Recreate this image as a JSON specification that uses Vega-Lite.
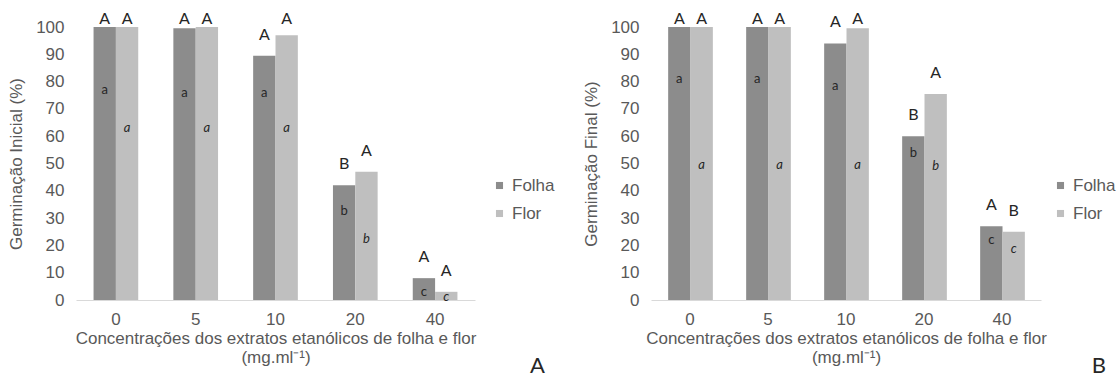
{
  "$schema": "https://vega.github.io/schema/vega-lite/v6.json",
  "background": "white",
  "padding": {"left": 7, "top": 11, "right": 0, "bottom": 0},
  "config": {
    "font": "Liberation Sans",
    "view": {"stroke": null},
    "axis": {"labelFont": "Liberation Sans", "labelFontSize": 17, "labelColor": "#595959", "titleFont": "Liberation Sans", "titleFontSize": 17, "titleColor": "#595959", "titleFontWeight": "normal", "grid": false, "ticks": false, "labelOverlap": false},
    "axisY": {"values": [0, 10, 20, 30, 40, 50, 60, 70, 80, 90, 100], "domain": false, "labelPadding": 12, "titlePadding": 10, "labelOverlap": false},
    "legend": {"labelFont": "Liberation Sans", "labelFontSize": 17, "labelColor": "#595959", "symbolType": "square", "symbolSize": 50, "symbolStrokeWidth": 0, "rowPadding": 10},
    "concat": {"spacing": 27}
  },
  "datasets": {
    "germ": [
      {"painel": "Inicial", "conc": 0, "tipo": "Folha", "valor": 100, "sup": "A", "inf": "a", "y_letra": 77},
      {"painel": "Inicial", "conc": 0, "tipo": "Flor", "valor": 100, "sup": "A", "inf": "a", "y_letra": 63},
      {"painel": "Inicial", "conc": 5, "tipo": "Folha", "valor": 99.5, "sup": "A", "inf": "a", "y_letra": 76},
      {"painel": "Inicial", "conc": 5, "tipo": "Flor", "valor": 100, "sup": "A", "inf": "a", "y_letra": 63},
      {"painel": "Inicial", "conc": 10, "tipo": "Folha", "valor": 89.5, "sup": "A", "inf": "a", "y_letra": 76},
      {"painel": "Inicial", "conc": 10, "tipo": "Flor", "valor": 97, "sup": "A", "inf": "a", "y_letra": 63},
      {"painel": "Inicial", "conc": 20, "tipo": "Folha", "valor": 42, "sup": "B", "inf": "b", "y_letra": 32.5},
      {"painel": "Inicial", "conc": 20, "tipo": "Flor", "valor": 47, "sup": "A", "inf": "b", "y_letra": 22.5},
      {"painel": "Inicial", "conc": 40, "tipo": "Folha", "valor": 8, "sup": "A", "inf": "c", "y_letra": 3},
      {"painel": "Inicial", "conc": 40, "tipo": "Flor", "valor": 3, "sup": "A", "inf": "c", "y_letra": 1},
      {"painel": "Final", "conc": 0, "tipo": "Folha", "valor": 100, "sup": "A", "inf": "a", "y_letra": 81},
      {"painel": "Final", "conc": 0, "tipo": "Flor", "valor": 100, "sup": "A", "inf": "a", "y_letra": 49.5},
      {"painel": "Final", "conc": 5, "tipo": "Folha", "valor": 100, "sup": "A", "inf": "a", "y_letra": 81},
      {"painel": "Final", "conc": 5, "tipo": "Flor", "valor": 100, "sup": "A", "inf": "a", "y_letra": 49.5},
      {"painel": "Final", "conc": 10, "tipo": "Folha", "valor": 94, "sup": "A", "inf": "a", "y_letra": 78.5},
      {"painel": "Final", "conc": 10, "tipo": "Flor", "valor": 99.5, "sup": "A", "inf": "a", "y_letra": 49.5},
      {"painel": "Final", "conc": 20, "tipo": "Folha", "valor": 60, "sup": "B", "inf": "b", "y_letra": 54},
      {"painel": "Final", "conc": 20, "tipo": "Flor", "valor": 75.5, "sup": "A", "inf": "b", "y_letra": 49},
      {"painel": "Final", "conc": 40, "tipo": "Folha", "valor": 27, "sup": "A", "inf": "c", "y_letra": 22},
      {"painel": "Final", "conc": 40, "tipo": "Flor", "valor": 25, "sup": "B", "inf": "c", "y_letra": 18.5}
    ]
  },
  "resolve": {"legend": {"color": "independent"}},
  "hconcat": [
    {
      "width": 399,
      "height": 273,
      "data": {"name": "germ"},
      "transform": [
        {"filter": "datum.painel === 'Inicial'"},
        {"calculate": "min(datum.valor + 4.8, 100)", "as": "y_sup"}
      ],
      "title": {"text": "A", "orient": "bottom", "anchor": "end", "font": "Lato", "fontSize": 22, "fontWeight": "normal", "color": "#262626", "offset": -9, "dx": -10},
      "encoding": {
        "x": {"field": "conc", "type": "ordinal", "sort": [0, 5, 10, 20, 40], "scale": {"paddingInner": 0.44, "paddingOuter": 0.22},
          "axis": {"labelAngle": 0, "domainColor": "#d9d9d9", "labelPadding": 11, "titlePadding": 3, "titleLineHeight": 19, "title": ["Concentrações dos extratos etanólicos de folha e flor", "(mg.ml⁻¹)"]}},
        "xOffset": {"field": "tipo", "sort": ["Folha", "Flor"], "scale": {"padding": 0}}
      },
      "layer": [
        {
          "mark": {"type": "bar"},
          "encoding": {
            "y": {"field": "valor", "type": "quantitative", "scale": {"domain": [0, 100]}, "title": "Germinação Inicial (%)",
              "axis": {"values": [0, 10, 20, 30, 40, 50, 60, 70, 80, 90, 100]}},
            "color": {"field": "tipo", "type": "nominal", "sort": ["Folha", "Flor"], "scale": {"domain": ["Folha", "Flor"], "range": ["#8c8c8c", "#bfbfbf"]},
              "legend": {"orient": "none", "legendX": 415, "legendY": 150, "title": null}}
          }
        },
        {
          "mark": {"type": "text", "baseline": "bottom", "font": "Lato", "fontSize": 16, "color": "#262626"},
          "encoding": {"y": {"field": "y_sup", "type": "quantitative", "title": "Germinação Inicial (%)", "axis": {"values": [0, 10, 20, 30, 40, 50, 60, 70, 80, 90, 100]}}, "text": {"field": "sup"}}
        },
        {
          "transform": [{"filter": "datum.tipo === 'Folha'"}],
          "mark": {"type": "text", "baseline": "middle", "font": "Lato", "fontSize": 13, "color": "#262626"},
          "encoding": {"y": {"field": "y_letra", "type": "quantitative", "title": "Germinação Inicial (%)", "axis": {"values": [0, 10, 20, 30, 40, 50, 60, 70, 80, 90, 100]}}, "text": {"field": "inf"}}
        },
        {
          "transform": [{"filter": "datum.tipo === 'Flor'"}],
          "mark": {"type": "text", "baseline": "middle", "font": "Lato", "fontSize": 13, "fontStyle": "italic", "color": "#262626"},
          "encoding": {"y": {"field": "y_letra", "type": "quantitative", "title": "Germinação Inicial (%)", "axis": {"values": [0, 10, 20, 30, 40, 50, 60, 70, 80, 90, 100]}}, "text": {"field": "inf"}}
        }
      ]
    },
    {
      "width": 390,
      "height": 273,
      "data": {"name": "germ"},
      "transform": [
        {"filter": "datum.painel === 'Final'"},
        {"calculate": "min(datum.valor + 4.8, 100)", "as": "y_sup"}
      ],
      "title": {"text": "B", "orient": "bottom", "anchor": "end", "font": "Lato", "fontSize": 22, "fontWeight": "normal", "color": "#262626", "offset": -9, "dx": -10},
      "encoding": {
        "x": {"field": "conc", "type": "ordinal", "sort": [0, 5, 10, 20, 40], "scale": {"paddingInner": 0.44, "paddingOuter": 0.22},
          "axis": {"labelAngle": 0, "domainColor": "#d9d9d9", "labelPadding": 11, "titlePadding": 3, "titleLineHeight": 19, "title": ["Concentrações dos extratos etanólicos de folha e flor", "(mg.ml⁻¹)"]}},
        "xOffset": {"field": "tipo", "sort": ["Folha", "Flor"], "scale": {"padding": 0}}
      },
      "layer": [
        {
          "mark": {"type": "bar"},
          "encoding": {
            "y": {"field": "valor", "type": "quantitative", "scale": {"domain": [0, 100]}, "title": "Germinação Final (%)",
              "axis": {"values": [0, 10, 20, 30, 40, 50, 60, 70, 80, 90, 100]}},
            "color": {"field": "tipo", "type": "nominal", "sort": ["Folha", "Flor"], "scale": {"domain": ["Folha", "Flor"], "range": ["#8c8c8c", "#bfbfbf"]},
              "legend": {"orient": "none", "legendX": 401, "legendY": 150, "title": null}}
          }
        },
        {
          "mark": {"type": "text", "baseline": "bottom", "font": "Lato", "fontSize": 16, "color": "#262626"},
          "encoding": {"y": {"field": "y_sup", "type": "quantitative", "title": "Germinação Final (%)", "axis": {"values": [0, 10, 20, 30, 40, 50, 60, 70, 80, 90, 100]}}, "text": {"field": "sup"}}
        },
        {
          "transform": [{"filter": "datum.tipo === 'Folha'"}],
          "mark": {"type": "text", "baseline": "middle", "font": "Lato", "fontSize": 13, "color": "#262626"},
          "encoding": {"y": {"field": "y_letra", "type": "quantitative", "title": "Germinação Final (%)", "axis": {"values": [0, 10, 20, 30, 40, 50, 60, 70, 80, 90, 100]}}, "text": {"field": "inf"}}
        },
        {
          "transform": [{"filter": "datum.tipo === 'Flor'"}],
          "mark": {"type": "text", "baseline": "middle", "font": "Lato", "fontSize": 13, "fontStyle": "italic", "color": "#262626"},
          "encoding": {"y": {"field": "y_letra", "type": "quantitative", "title": "Germinação Final (%)", "axis": {"values": [0, 10, 20, 30, 40, 50, 60, 70, 80, 90, 100]}}, "text": {"field": "inf"}}
        }
      ]
    }
  ]
}
